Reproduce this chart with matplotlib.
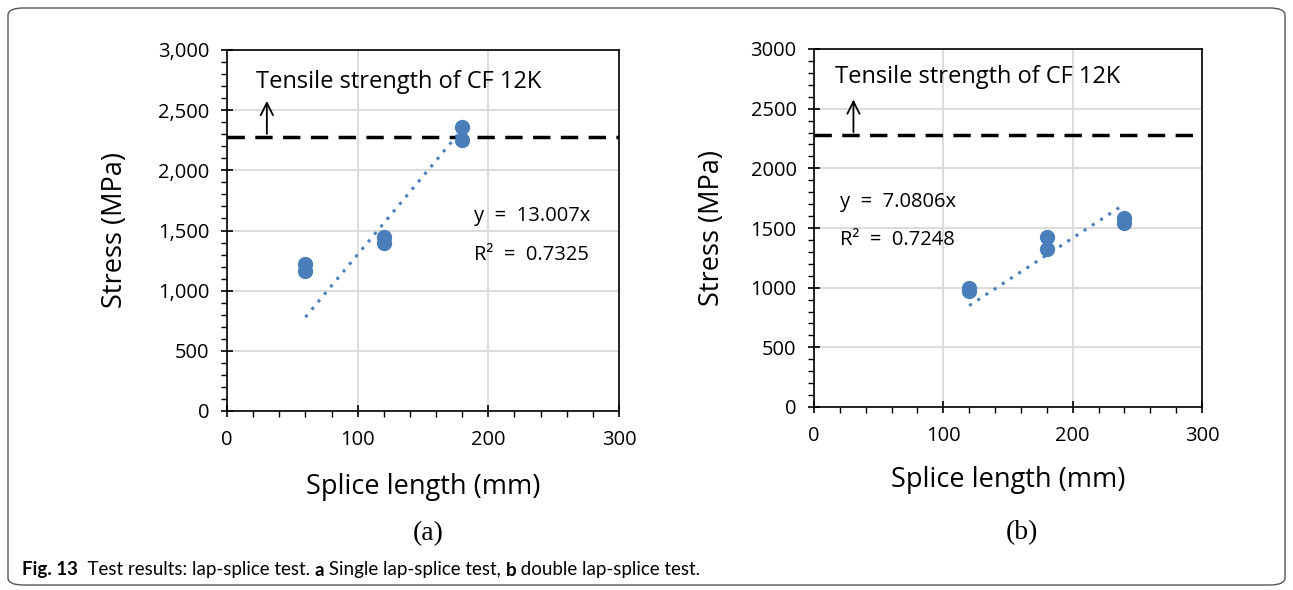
import numpy as np
import matplotlib
matplotlib.use("Agg")
import matplotlib.pyplot as plt
from matplotlib.patches import FancyBboxPatch
from matplotlib.ticker import MultipleLocator, FuncFormatter

plt.rcParams['font.family'] = ['Open Sans', 'DejaVu Sans']

# (a) single lap-splice test
a_length = [60, 60, 120, 120, 180, 180]
a_stress = [1220, 1160, 1450, 1395, 2362, 2252]
a_slope = 13.007
a_r2 = 0.7325

# (b) double lap-splice test
b_length = [120, 120, 180, 180, 240, 240]
b_stress = [1000, 975, 1422, 1324, 1582, 1545]
b_slope = 7.0806
b_r2 = 0.7248

cf_strength = 2280
blue = "#4a7ebb"

fig = plt.figure(figsize=(12.93, 5.90), dpi=100)

# rounded frame around the whole figure
frame = FancyBboxPatch((8 / 1293, 5 / 590), 1277 / 1293, 577 / 590,
                       boxstyle="round,pad=0,rounding_size=0.012",
                       transform=fig.transFigure, fill=False,
                       edgecolor="#555555", linewidth=1.0)
fig.patches.append(frame)


def draw_panel(rect, x, y, slope, r2, commas, pos, tag, ylab_x, xlab_y, tag_pos):
    ax = fig.add_axes(rect)
    ax.set_xlim(0, 300)
    ax.set_ylim(0, 3000)
    ax.xaxis.set_major_locator(MultipleLocator(100))
    ax.xaxis.set_minor_locator(MultipleLocator(20))
    ax.yaxis.set_major_locator(MultipleLocator(500))
    ax.yaxis.set_minor_locator(MultipleLocator(100))
    if commas:
        ax.yaxis.set_major_formatter(FuncFormatter(lambda v, p: "{:,.0f}".format(v)))
    ax.grid(True, which="major", color="#d9d9d9", linewidth=1.3)
    ax.set_axisbelow(True)
    for s in ax.spines.values():
        s.set_color("black")
        s.set_linewidth(1.2)
    ax.tick_params(which="major", direction="inout", length=9, width=1.2, labelsize=14.5)
    ax.tick_params(axis="x", which="major", pad=9)
    ax.tick_params(axis="y", which="major", pad=8)
    ax.tick_params(which="minor", direction="out", length=4, width=1.0)

    # tensile strength reference line
    ax.axhline(cf_strength, color="black", linestyle=(0, (5, 3)), linewidth=2.5, zorder=3)
    ax.annotate("", xy=(30.5, 2600), xytext=(30.5, cf_strength),
                arrowprops=dict(arrowstyle="->", color="black", lw=1.3, mutation_scale=22))
    ax.text(pos[0], pos[1], "Tensile strength of CF 12K", fontsize=17, va="center")

    # data and linear trend through the origin
    xs = np.array([min(x), max(x)])
    ax.plot(xs, slope * xs, linestyle=(0, (1, 2.2)), color=blue, linewidth=2.2, zorder=3)
    ax.plot(x, y, "o", color=blue, markersize=10, zorder=4)
    ax.text(pos[2], pos[3], "y  =  {}x".format(slope), fontsize=14.5, va="center")
    ax.text(pos[2], pos[4], "R²  =  {}".format(r2), fontsize=14.5, va="center")

    fig.text(ylab_x / 1293, rect[1] + rect[3] / 2, "Stress (MPa)", rotation=90,
             fontsize=19.5, ha="center", va="center")
    fig.text(rect[0] + rect[2] / 2, 1 - xlab_y / 590, "Splice length (mm)",
             fontsize=19.5, ha="center", va="center")
    fig.text(tag_pos[0] / 1293, 1 - tag_pos[1] / 590, tag, fontsize=20,
             family="Liberation Serif", ha="center", va="center")
    return ax


draw_panel([227 / 1293, 179 / 590, 392 / 1293, 361 / 590],
           a_length, a_stress, a_slope, a_r2, True,
           (22, 2735, 189, 1620, 1297), "(a)", 115, 487, (428, 534))
draw_panel([814 / 1293, 183 / 590, 388 / 1293, 358 / 590],
           b_length, b_stress, b_slope, b_r2, False,
           (16, 2766, 20, 1718, 1400), "(b)", 712, 480, (1022, 533))

# caption, with bold figure number and panel letters
caption_family = ["Lato", "DejaVu Sans"]
renderer = fig.canvas.get_renderer()
x0 = 22 / 1293
pieces = [("Fig. 13", "bold"), ("  Test results: lap-splice test. ", "normal"), ("a", "bold"),
          (" Single lap-splice test, ", "normal"), ("b", "bold"),
          (" double lap-splice test.", "normal")]
for txt, w in pieces:
    t = fig.text(x0, 1 - 570 / 590, txt, fontsize=13.5, weight=w,
                 family=caption_family, va="center")
    bb = t.get_window_extent(renderer=renderer)
    x0 += bb.width / 1293

fig.savefig("out.png", dpi=100)
